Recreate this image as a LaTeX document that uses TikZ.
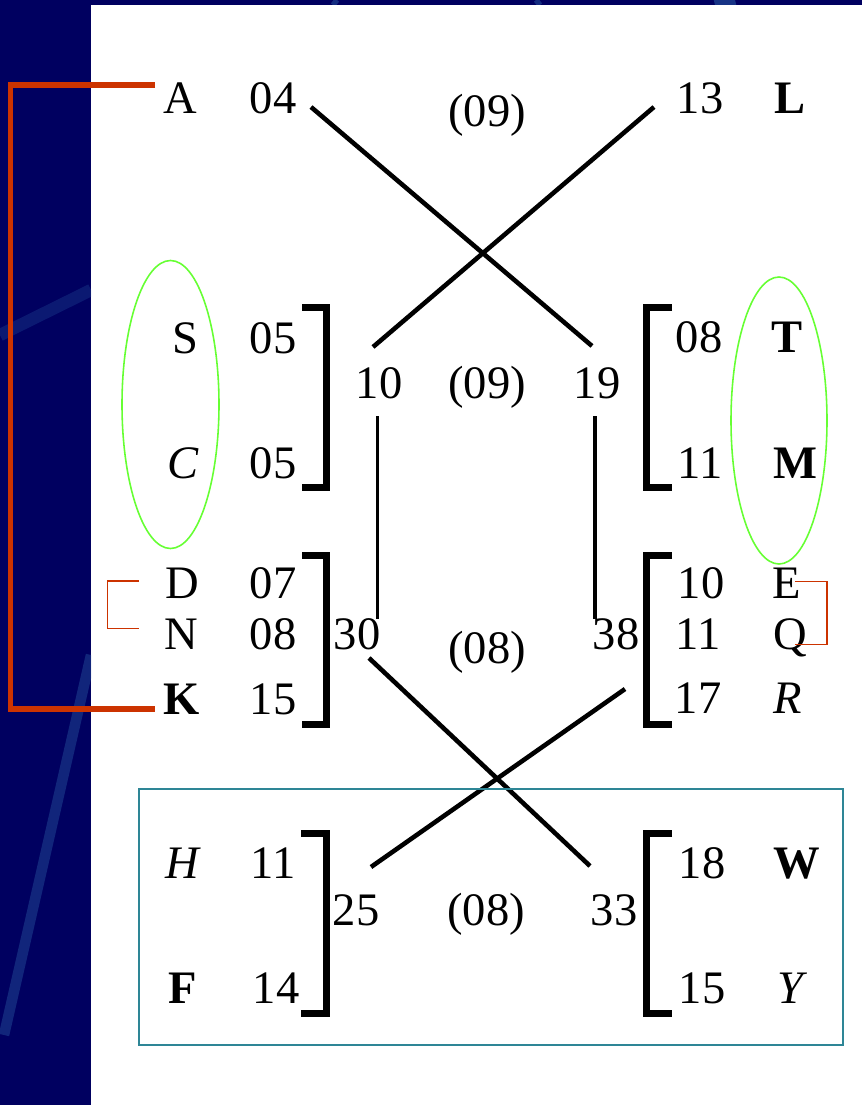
\documentclass[tikz,border=0pt]{standalone}
\usepackage{fontspec}
\setmainfont{Liberation Serif}
\definecolor{navy}{RGB}{0,0,96}
\definecolor{streak}{RGB}{34,74,150}
\definecolor{redb}{RGB}{204,51,0}
\definecolor{greenell}{RGB}{102,255,51}
\definecolor{tealbox}{RGB}{46,134,150}
\begin{document}
\begin{tikzpicture}[x=0.02cm,y=-0.02cm,
  t/.style={anchor=base,inner sep=0pt,font=\fontsize{26.5}{30}\selectfont},
  tb/.style={t,font=\fontsize{26.5}{30}\selectfont\bfseries},
  ti/.style={t,font=\fontsize{26.5}{30}\selectfont\itshape},
  brk/.style={line width=4pt,miter limit=10},
  conn/.style={line width=2.6pt},
  vconn/.style={line width=2pt},
  redbig/.style={redb,line width=2.9pt},
  redsmall/.style={redb,line width=0.9pt},
  ell/.style={greenell,line width=0.9pt},
  box/.style={tealbox,line width=1.2pt}]
\useasboundingbox (0,0) rectangle (862,1105);
% background
\fill[white] (0,0) rectangle (862,1105);
\fill[navy] (0,0) rectangle (91,1105);
\fill[navy] (0,0) rectangle (862,5);
\begin{scope}
\clip (0,0) rectangle (91,1105);
\draw[streak,line width=7pt,opacity=0.35] (0,335) -- (91,290);
\draw[streak,line width=6pt,opacity=0.5] (4,1035) -- (91,655);
\end{scope}
\begin{scope}
\clip (91,0) rectangle (862,5);
\draw[streak,line width=3pt,opacity=0.6] (333,5) -- (337,0);
\draw[streak,line width=3pt,opacity=0.6] (536,0) -- (540,5);
\draw[streak,line width=6pt,opacity=0.7] (715,5) -- (735,0);
\end{scope}

% row 1
\node[t] (A) at (180,113) {A};
\node[t] (n04) at (273,113) {04};
\node[t] (p09a) at (487,127) {(09)};
\node[t] (n13) at (700,113) {13};
\node[tb] (L) at (790,113) {L};

% row 2
\node[t] (S) at (185,353) {S};
\node[t] (n05a) at (273,353) {05};
\node[ti] (C) at (183,478) {C};
\node[t] (n05b) at (273,478) {05};
\node[t] (n10a) at (379,398) {10};
\node[t] (p09b) at (487,398) {(09)};
\node[t] (n19) at (597,398) {19};
\node[t] (n08a) at (699,352) {08};
\node[tb] (T) at (787,352) {T};
\node[t] (n11a) at (700,478) {11};
\node[tb] (M) at (795,478) {M};

% row 3
\node[t] (D) at (182,598) {D};
\node[t] (n07) at (273,598) {07};
\node[t] (N) at (181,649) {N};
\node[t] (n08b) at (273,649) {08};
\node[tb] (K) at (182,714) {K};
\node[t] (n15a) at (273,714) {15};
\node[t] (n30) at (357,649) {30};
\node[t] (p08a) at (487,663) {(08)};
\node[t] (n38) at (616,649) {38};
\node[t] (n10b) at (701,598) {10};
\node[t] (E) at (787,598) {E};
\node[t] (n11b) at (698,649) {11};
\node[t] (Q) at (790,649) {Q};
\node[t] (n17) at (698,713) {17};
\node[ti] (R) at (788,713) {R};

% row 4
\node[ti] (H) at (182,878) {H};
\node[t] (n11c) at (273,878) {11};
\node[tb] (F) at (183,1003) {F};
\node[t] (n14) at (276,1003) {14};
\node[t] (n25) at (356,925) {25};
\node[t] (p08b) at (486,925) {(08)};
\node[t] (n33) at (614,925) {33};
\node[t] (n18) at (702,878) {18};
\node[tb] (W) at (797,878) {W};
\node[t] (n15b) at (702,1003) {15};
\node[ti] (Y) at (790,1003) {Y};

% brackets
\draw[brk] (302,307.5) -- (326.5,307.5) -- (326.5,487.5) -- (302,487.5);
\draw[brk] (672,307.5) -- (646.5,307.5) -- (646.5,487.5) -- (672,487.5);
\draw[brk] (302,555.5) -- (326.5,555.5) -- (326.5,724.5) -- (302,724.5);
\draw[brk] (672,555.5) -- (646.5,555.5) -- (646.5,724.5) -- (672,724.5);
\draw[brk] (301,833.5) -- (326.5,833.5) -- (326.5,1013.5) -- (301,1013.5);
\draw[brk] (672,833.5) -- (646.5,833.5) -- (646.5,1013.5) -- (672,1013.5);

% connector end points
\coordinate (c04) at (311,107);
\coordinate (c19t) at (592,346);
\coordinate (c13) at (654,107);
\coordinate (c10t) at (373,347);
\coordinate (c10b) at (377.5,416);
\coordinate (c30t) at (377.5,619);
\coordinate (c19b) at (595,416);
\coordinate (c38t) at (595,619);
\coordinate (c30) at (369,658);
\coordinate (c33) at (590,866);
\coordinate (c38) at (625,689);
\coordinate (c25) at (371,867);

\draw[conn] (c04) -- (c19t);
\draw[conn] (c13) -- (c10t);
\draw[vconn] (c10b) -- (c30t);
\draw[vconn] (c19b) -- (c38t);
\draw[conn] (c30) -- (c33);
\draw[conn] (c38) -- (c25);

% red brackets
\draw[redbig,line join=miter] (155,85) -- (10.5,85) -- (10.5,709) -- (155,709);
\draw[redsmall] (139,581) -- (107.5,581) -- (107.5,628.5) -- (139,628.5);
\draw[redsmall] (795,581.5) -- (827,581.5) -- (827,644.5) -- (795,644.5);

% green ellipses
\draw[ell] (170.5,404.5) ellipse [x radius=48.5, y radius=144];
\draw[ell] (779,420.5) ellipse [x radius=48, y radius=143.5];

% teal box
\draw[box] (139,789) rectangle (843,1045);
\end{tikzpicture}
\end{document}
